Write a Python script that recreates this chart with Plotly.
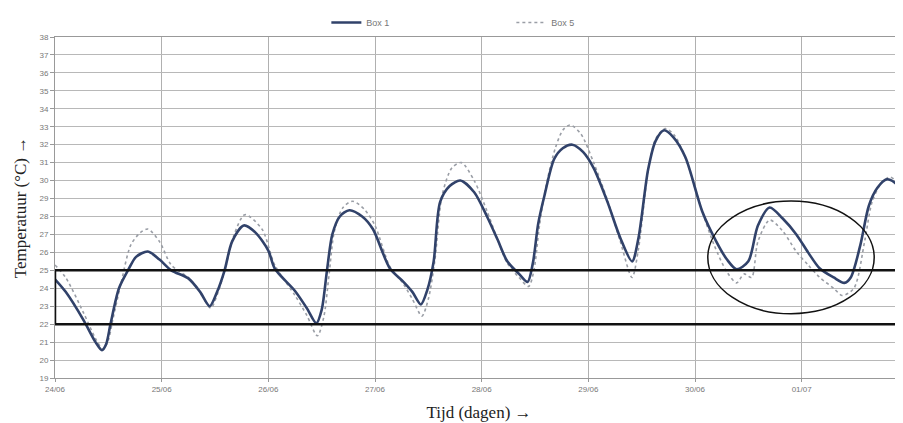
import plotly.graph_objects as go

# time in days since 24/06 00:00
box1_t = [0.00, 0.10, 0.27, 0.38, 0.44, 0.48, 0.52, 0.60, 0.69, 0.76, 0.87, 0.98, 1.09, 1.25, 1.36, 1.45,
          1.52, 1.59, 1.66, 1.77, 1.88, 2.00, 2.06, 2.25, 2.36, 2.45, 2.50, 2.55, 2.60, 2.67, 2.76,
          2.88, 2.98, 3.14, 3.26, 3.35, 3.43, 3.49, 3.55, 3.61, 3.70, 3.80, 3.93, 4.05, 4.15, 4.24,
          4.35, 4.43, 4.48, 4.53, 4.59, 4.68, 4.76, 4.85, 4.95, 5.05, 5.18, 5.30, 5.41, 5.47, 5.56,
          5.63, 5.71, 5.80, 5.91, 6.07, 6.20, 6.30, 6.39, 6.50, 6.59, 6.70, 6.82, 6.95, 7.06, 7.17,
          7.30, 7.40, 7.46, 7.55, 7.63, 7.71, 7.80, 7.87, 7.95]
box1_v = [24.5, 23.8, 22.2, 21.0, 20.55, 20.9, 22.0, 24.0, 25.06, 25.75, 26.05, 25.6, 25.0, 24.55, 23.8, 23.0,
          23.8, 25.0, 26.6, 27.5, 27.1, 26.1, 25.1, 23.85, 22.9, 22.05, 22.8, 25.0, 27.0, 28.0, 28.35,
          28.0, 27.3, 25.1, 24.4, 23.8, 23.1, 23.9, 25.5, 28.8, 29.7, 30.0, 29.35, 28.0, 26.7, 25.5,
          24.8, 24.35, 25.4, 27.6, 29.2, 31.2, 31.8, 32.0, 31.6, 30.7, 28.8, 26.8, 25.5, 26.8, 30.6,
          32.2, 32.8, 32.4, 31.3, 28.25, 26.6, 25.6, 25.06, 25.5, 27.5, 28.5, 27.9, 27.0, 26.0, 25.1,
          24.6, 24.3, 24.6, 26.4, 28.6, 29.6, 30.07, 29.9, 29.4]

box5_t = [0.00, 0.10, 0.27, 0.38, 0.45, 0.50, 0.54, 0.62, 0.71, 0.80, 0.87, 0.98, 1.09, 1.25, 1.36, 1.46,
          1.53, 1.60, 1.68, 1.78, 1.94, 2.06, 2.25, 2.36, 2.46, 2.52, 2.57, 2.62, 2.70, 2.79,
          2.90, 3.00, 3.14, 3.26, 3.35, 3.44, 3.50, 3.56, 3.63, 3.72, 3.81, 3.93, 4.05, 4.15, 4.24,
          4.35, 4.44, 4.49, 4.54, 4.60, 4.69, 4.76, 4.83, 4.93, 5.05, 5.18, 5.30, 5.41, 5.47, 5.56,
          5.63, 5.72, 5.81, 5.92, 6.05, 6.18, 6.30, 6.39, 6.46, 6.53, 6.59, 6.70, 6.82, 6.95, 7.06, 7.17,
          7.30, 7.38, 7.49, 7.59, 7.66, 7.75, 7.83, 7.88, 7.95]
box5_v = [25.3, 24.6, 22.6, 21.2, 20.6, 21.1, 22.2, 24.3, 26.4, 27.1, 27.3, 26.6, 25.3, 24.6, 23.8, 22.9,
          23.8, 25.2, 27.0, 28.1, 27.3, 25.3, 23.6, 22.5, 21.35, 22.4, 24.8, 27.2, 28.5, 28.85,
          28.4, 27.5, 25.2, 24.3, 23.4, 22.45, 23.4, 25.5, 29.2, 30.7, 31.0, 30.0, 28.3, 26.7, 25.4,
          24.6, 24.1, 25.0, 27.4, 29.6, 31.8, 32.8, 33.1, 32.6, 31.0, 28.9, 26.6, 24.6, 26.2, 30.5,
          32.3, 32.9, 32.5, 31.1, 28.6, 26.4, 24.9, 24.3, 24.8, 24.6, 26.6, 27.8, 27.2, 26.05, 25.3, 24.6,
          24.0, 23.6, 24.0, 26.6, 28.8, 29.9, 30.2, 30.0, 29.6]

tick_vals = [0, 1, 2, 3, 4, 5, 6, 7]
tick_text = ["24/06", "25/06", "26/06", "27/06", "28/06", "29/06", "30/06", "01/07"]

comfort_low, comfort_high = 22, 25
ellipse_x = [6.12, 7.68]
ellipse_y = [22.58, 28.86]

fig = go.Figure()
fig.add_trace(go.Scatter(x=box5_t, y=box5_v, name="Box 5", mode="lines", legendrank=2,
                         line=dict(color="#9a9ea6", width=1.6, dash="dot", shape="spline", smoothing=0.8)))
fig.add_trace(go.Scatter(x=box1_t, y=box1_v, name="Box 1", mode="lines", legendrank=1,
                         line=dict(color="#31426a", width=2.6, shape="spline", smoothing=0.8)))

fig.add_shape(type="rect", xref="x", yref="y", x0=0, x1=7.95, y0=comfort_low, y1=comfort_high,
              line=dict(color="#111111", width=2.5), layer="above")
fig.add_shape(type="circle", xref="x", yref="y", x0=ellipse_x[0], x1=ellipse_x[1],
              y0=ellipse_y[0], y1=ellipse_y[1], line=dict(color="#111111", width=1.5), layer="above")

fig.update_layout(
    width=895, height=415,
    margin=dict(l=47, r=0, t=25, b=45),
    paper_bgcolor="white", plot_bgcolor="white",
    font=dict(family="Liberation Sans", size=8, color="#666666"),
    legend=dict(orientation="h", x=0.32, xanchor="left", yref="container", y=1.0, yanchor="top",
                entrywidth=140, font=dict(size=9, color="#777777"), bgcolor="rgba(0,0,0,0)"),
    xaxis=dict(range=[0, 7.95], tickvals=tick_vals, ticktext=tick_text, showgrid=True, automargin=False,
               gridcolor="#b0b0b0", gridwidth=1, zeroline=False, showline=True, linecolor="#999999",
               mirror=True, ticks="outside", ticklen=3, tickcolor="#999999",
               tickfont=dict(size=8, color="#777777"),
               title=dict(text="Tijd (dagen) →", standoff=13,
                          font=dict(family="Liberation Serif", size=17, color="#222222"))),
    yaxis=dict(range=[19, 38], dtick=1, showgrid=True, gridcolor="#b8b8b8", gridwidth=1, automargin=False,
               zeroline=False, showline=True, linecolor="#999999", mirror=True,
               ticks="outside", ticklen=4, tickcolor="#999999",
               tickfont=dict(size=8, color="#777777"),
               title=dict(text="Temperatuur (°C) →", standoff=8,
                          font=dict(family="Liberation Serif", size=17, color="#222222"))),
)

fig.write_html("out.html")
